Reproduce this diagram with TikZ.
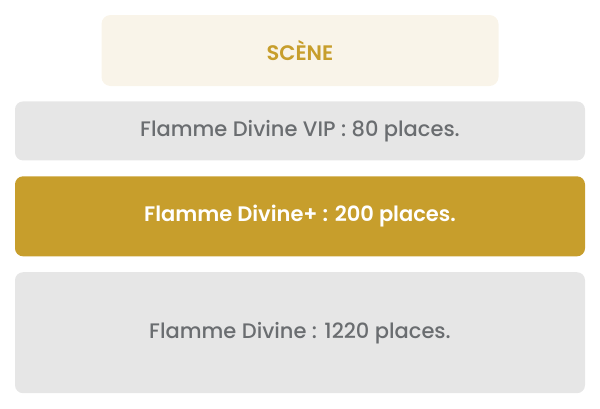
\documentclass[tikz,border=0pt]{standalone}
\usepackage{fontspec}
\setmainfont{Poppins}
\newfontfamily\popmed{Poppins Medium}
\newfontfamily\popsemi{Poppins SemiBold}
\usetikzlibrary{positioning}

\definecolor{scenecream}{HTML}{F9F4E9}
\definecolor{flamegold}{HTML}{C79E2C}
\definecolor{zonegray}{HTML}{E6E6E6}
\definecolor{zonetext}{HTML}{6A6D70}

\tikzset{
  zone/.style={rectangle, rounded corners=8pt, fill=zonegray, text=zonetext,
    minimum width=570pt, font=\fontsize{21}{24}\popmed, inner sep=0pt},
  zonehi/.style={zone, fill=flamegold, text=white, font=\fontsize{21}{24}\popsemi},
  scenebox/.style={rectangle, rounded corners=9pt, fill=scenecream, text=flamegold,
    minimum width=397pt, minimum height=71pt, inner sep=0pt,
    font=\fontsize{21}{24}\popsemi}
}

\begin{document}
\begin{tikzpicture}[x=1pt, y=-1pt, node distance=15.5pt]
  \useasboundingbox (0,0) rectangle (600,408);

  \node[scenebox] (scene) at (300,50.5) {SCÈNE};
  \node[zone, minimum height=59pt, below=15pt of scene] (vip) {Flamme Divine VIP : 80 places.};
  \node[zonehi, minimum height=80pt, below=of vip] (plus) {Flamme Divine+ : 200 places.};
  \node[zone, minimum height=121pt, below=of plus] (std) {Flamme Divine : 1220 places.};
\end{tikzpicture}
\end{document}
